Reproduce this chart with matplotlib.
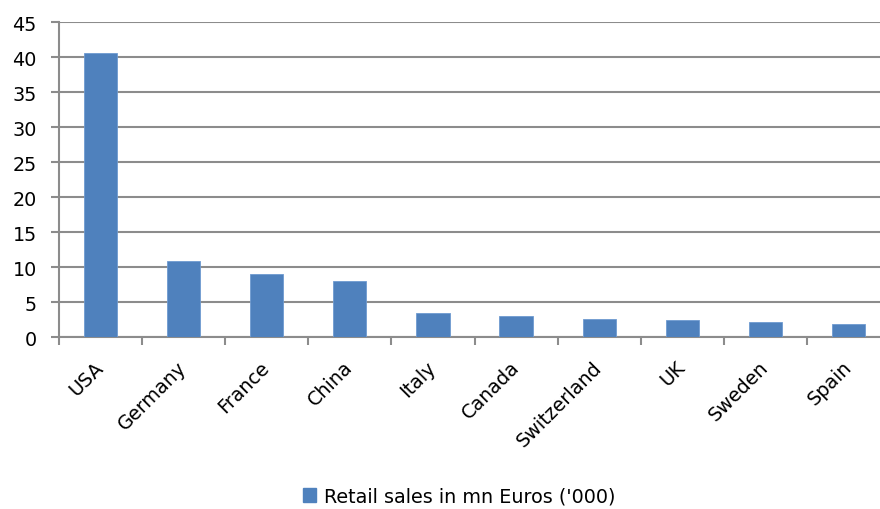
import matplotlib
matplotlib.use("Agg")
import matplotlib.pyplot as plt
import numpy as np
from matplotlib.patches import Patch

categories = ["USA", "Germany", "France", "China", "Italy", "Canada",
              "Switzerland", "UK", "Sweden", "Spain"]
values = [40.6, 10.9, 9.1, 8.0, 3.5, 3.05, 2.6, 2.5, 2.25, 1.9]
series_name = "Retail sales in mn Euros ('000)"
yticks = [0, 5, 10, 15, 20, 25, 30, 35, 40, 45]

plt.rcParams['font.family'] = ['DejaVu Sans']

W, H = 880, 510
fig = plt.figure(figsize=(W / 100, H / 100), dpi=100)
left, right, top, bottom = 59, 890, 23.3, 338.3
ax = fig.add_axes([left / W, 1 - bottom / H, (right - left) / W, (bottom - top) / H])

bar_color = "#4f81bd"
x = np.arange(len(categories))
ax.bar(x, values, width=0.4, color=bar_color, edgecolor="#6f9bd1", linewidth=0.6, zorder=3)

fs = 13.8
ax.set_xlim(-0.5, len(categories) - 0.5)
ax.set_ylim(0, 45)
ax.set_yticks(yticks)
ax.set_yticklabels([str(t) for t in yticks], fontsize=fs)
ax.yaxis.grid(True, color="#8c8c8c", linewidth=1.5, zorder=0)
ax.set_axisbelow(True)

ax.set_xticks(x)
ax.set_xticklabels(categories, fontsize=fs, rotation=45, ha="right",
                   va="center", rotation_mode="anchor")
ax.tick_params(axis="x", which="major", length=0, pad=19)
ax.set_xticks(np.arange(-0.5, len(categories), 1), minor=True)
ax.tick_params(axis="x", which="minor", length=6, width=1.5, color="#8c8c8c", direction="out")
ax.tick_params(axis="y", length=6, width=1.5, color="#8c8c8c", direction="out", pad=10)

for s in ["top", "right"]:
    ax.spines[s].set_visible(False)
for s in ["left", "bottom"]:
    ax.spines[s].set_color("#8c8c8c")
    ax.spines[s].set_linewidth(1.5)

handle = Patch(facecolor=bar_color, edgecolor=bar_color)
fig.legend([handle], [series_name], loc="center", bbox_to_anchor=(459 / W, 1 - 497 / H),
           frameon=False, fontsize=fs, handlelength=0.7, handleheight=0.7,
           handletextpad=0.4)

fig.savefig("out.png", dpi=100)
